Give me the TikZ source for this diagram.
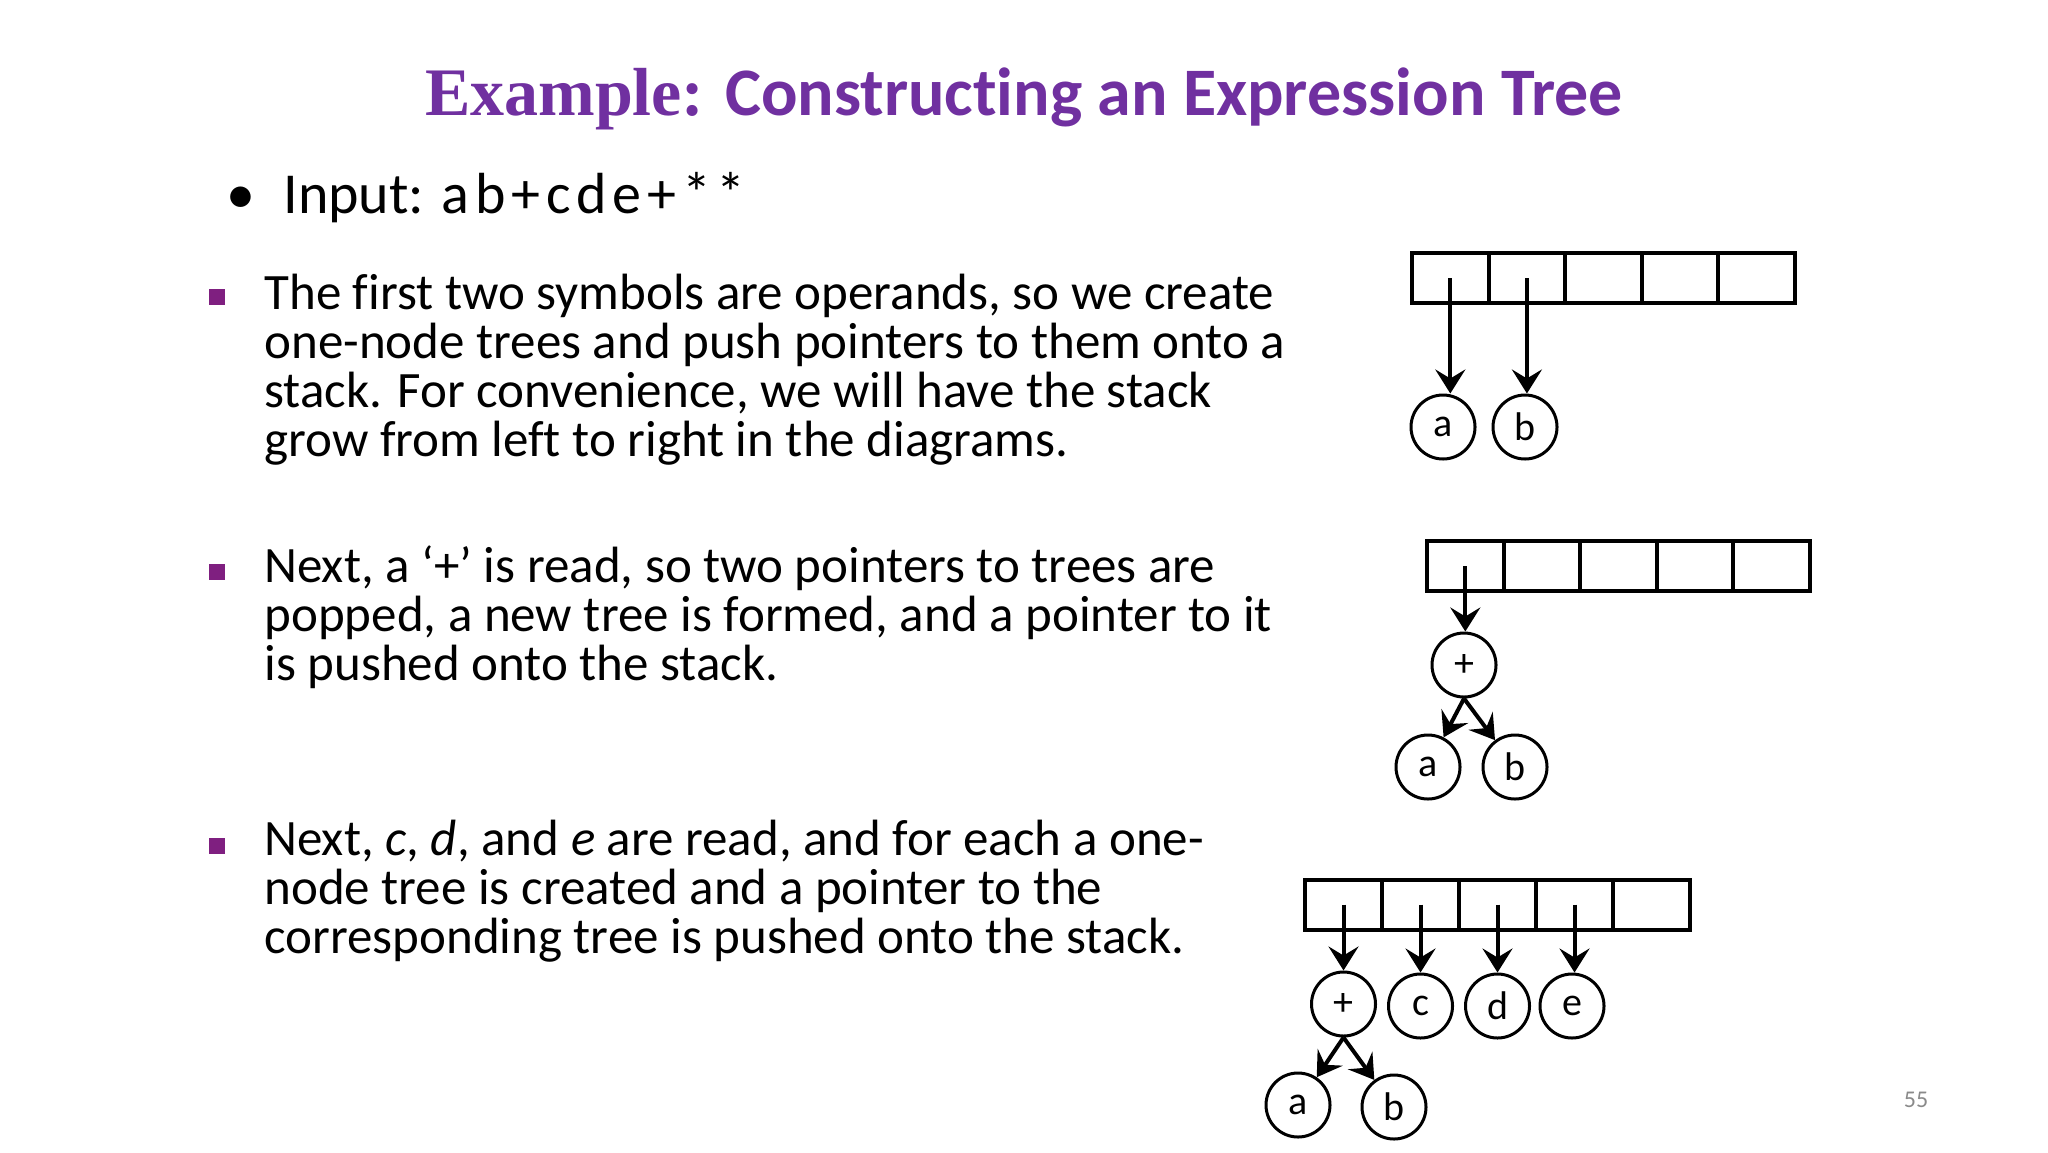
\documentclass[tikz,border=0pt]{standalone}
\usepackage{fontspec}
\setmainfont{Carlito}[Ligatures=NoCommon]
\newfontfamily\titleserif{Liberation Serif}
\usetikzlibrary{arrows.meta}
\definecolor{titlepurple}{HTML}{7030A0}
\definecolor{bulletpurple}{HTML}{7F1F80}
\definecolor{pagegray}{HTML}{8A8A8A}
\begin{document}
\begin{tikzpicture}[
                x=0.5pt, y=-0.5pt,
                cell/.style={rectangle, draw, line width=2pt, minimum width=38.3pt, minimum height=25pt, inner sep=0pt},
                treenode/.style={circle, draw, line width=1.5pt, minimum size=32pt, inner sep=0pt, font=\fontsize{20}{20}\selectfont},
                ptr/.style={line width=2pt, -{Stealth[length=12pt, width=15pt, inset=4.5pt]}},
                para/.style={align=left, inner sep=0pt, anchor=base west, font=\fontsize{25.5}{24.5}\selectfont},
                sqbullet/.style={rectangle, fill=bulletpurple, minimum size=8pt, inner sep=0pt}
            ]
                \useasboundingbox (0,0) rectangle (2048,1152);

                % Title
                \node[anchor=base, text=titlepurple, font=\fontsize{34}{34}\selectfont\bfseries] (title) at (1024,115)
                    {{\titleserif Example:} Constructing an Expression Tree};

                % Input line
                \node[anchor=base west, inner sep=0pt, font=\fontsize{29}{29}\selectfont] (dot) at (226,213) {•};
                \node[anchor=base west, inner sep=0pt, font=\fontsize{29}{29}\selectfont] (input) at (283,213)
                    {Input: \addfontfeature{LetterSpace=10}ab+cde+**};

                % The three bullet paragraphs (anchored at their last line)
                \node[sqbullet] (b1) at (217,297) {};
                \node[para] (p1) at (264,456) {The first two symbols are operands, so we create\\
                    one-node trees and push pointers to them onto a\\
                    stack. For convenience, we will have the stack\\
                    grow from left to right in the diagrams.};
                \node[sqbullet] (b2) at (217,572) {};
                \node[para] (p2) at (264,680) {Next, a `+' is read, so two pointers to trees are\\
                    popped, a new tree is formed, and a pointer to it\\
                    is pushed onto the stack.};
                \node[sqbullet] (b3) at (217,846) {};
                \node[para] (p3) at (264,953) {Next, \emph{c}, \emph{d}, and \emph{e} are read, and for each a one-\\
                    node tree is created and a pointer to the\\
                    corresponding tree is pushed onto the stack.};

                % Stack 1: a and b pushed
                \foreach \i in {1,...,5}
                    \node[cell] (sa\i) at ({1373.7+76.6*\i},278) {};
                \node[treenode] (a1) at (1443,427) {a};
                \node[treenode] (b1n) at (1525,427) {b};
                \draw[ptr] (sa1.center) -- (sa1.center |- a1.north);
                \draw[ptr] (sa2.center) -- (sa2.center |- b1n.north);

                % Stack 2: a + tree
                \foreach \i in {1,...,5}
                    \node[cell] (sb\i) at ({1388.7+76.6*\i},566) {};
                \node[treenode] (plus2) at (1464,665) {+};
                \node[treenode] (a2) at (1428,767) {a};
                \node[treenode] (b2n) at (1515,767) {b};
                \draw[ptr] (sb1.center) -- (sb1.center |- plus2.north);
                \draw[ptr] (plus2.south) -- (a2);
                \draw[ptr] (plus2.south) -- (b2n);

                % Stack 3: + tree, then c, d and e
                \foreach \i in {1,...,5}
                    \node[cell] (sc\i) at ({1266.5+77*\i},904.5) {};
                \node[treenode] (plus3) at (1343.5,1004) {+};
                \node[treenode] (c3) at (1420.5,1006) {c};
                \node[treenode] (d3) at (1497.5,1006) {d};
                \node[treenode] (e3) at (1572,1006) {e};
                \node[treenode] (a3) at (1298,1105) {a};
                \node[treenode] (b3n) at (1394,1107) {b};
                \draw[ptr] (sc1.center) -- (sc1.center |- plus3.north);
                \draw[ptr] (sc2.center) -- (sc2.center |- c3.north);
                \draw[ptr] (sc3.center) -- (sc3.center |- d3.north);
                \draw[ptr] (sc4.center) -- (sc4.center |- e3.north);
                \draw[ptr] (plus3.south) -- (a3);
                \draw[ptr] (plus3.south) -- (b3n);

                % Page number
                \node[anchor=base, text=pagegray, font=\fontsize{12}{12}\selectfont] (page) at (1916,1107) {55};

            \end{tikzpicture}
\end{document}
